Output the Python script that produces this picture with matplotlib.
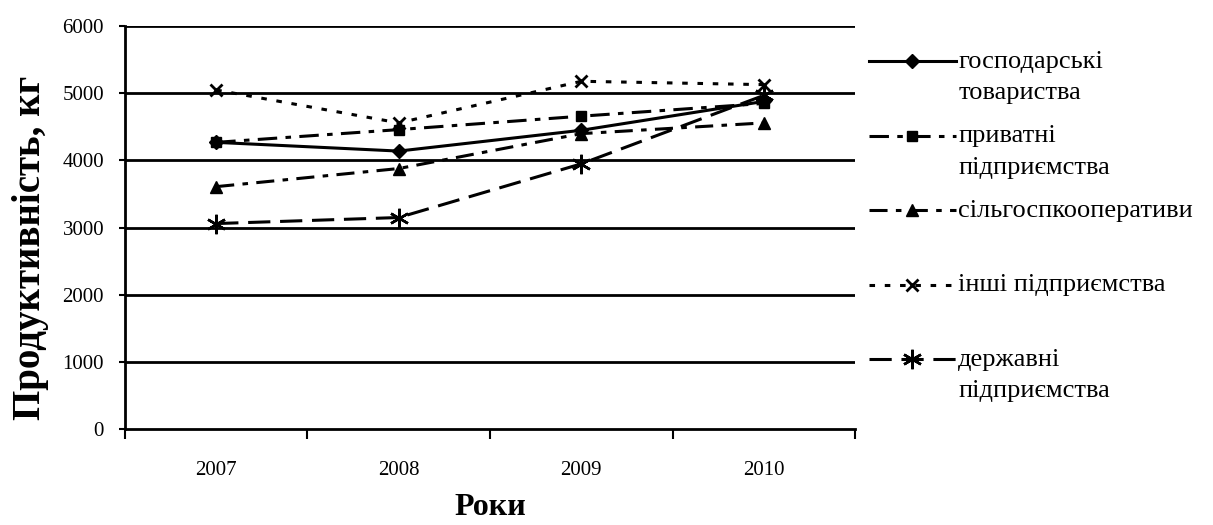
import numpy as np
import matplotlib
matplotlib.use("Agg")
import matplotlib.pyplot as plt

plt.rcParams['font.family'] = ['Liberation Serif', 'DejaVu Serif']
plt.rcParams['lines.scale_dashes'] = False

years = ['2007', '2008', '2009', '2010']
gosp = [4270, 4140, 4450, 4880]
pryv = [4270, 4460, 4660, 4850]
silg = [3610, 3880, 4400, 4560]
inshi = [5050, 4560, 5180, 5130]
derzh = [3060, 3150, 3950, 4970]

# every label gets two lines so the legend rows come out evenly spaced
labels = ['господарські\nтовариства', 'приватні\nпідприємства', 'сільгоспкооперативи\n ',
          'інші підприємства\n ', 'державні\nпідприємства']

x = np.arange(len(years))

fig = plt.figure(figsize=(12.13, 5.25), dpi=100)
ax = fig.add_axes([0.103, 0.183, 0.602, 0.767])

lw = 2.2
ax.plot(x, gosp, color='black', lw=lw, ls='-', marker='D', ms=7, label=labels[0], zorder=5)
ax.plot(x, pryv, color='black', lw=lw, ls=(0, (14, 6, 4, 6)), marker='s', ms=7, label=labels[1], zorder=4)
ax.plot(x, silg, color='black', lw=lw, ls=(0, (13, 6, 4, 6)), marker='^', ms=9, label=labels[2], zorder=4)
ax.plot(x, inshi, color='black', lw=lw, ls=(0, (4, 7)), marker='x', ms=8, mew=2, label=labels[3], zorder=4)
ax.plot(x, derzh, color='black', lw=lw, ls=(0, (16, 7)), marker=(6, 2, 0), ms=14, mew=1.8, label=labels[4], zorder=4)

ax.set_xlim(-0.5, 3.5)
ax.set_ylim(0, 6000)
ax.set_yticks(np.arange(0, 6001, 1000))
for yv in range(1000, 6001, 1000):
    ax.axhline(yv, color='black', lw=2, zorder=1)

ax.set_xticks(np.arange(-0.5, 3.6, 1.0))
ax.set_xticklabels([])
ax.set_xticks(x, minor=True)
ax.set_xticklabels(years, minor=True, fontsize=15)
ax.tick_params(axis='x', which='major', direction='out', length=7, width=1.5)
ax.tick_params(axis='x', which='minor', length=0, pad=23)
ax.tick_params(axis='y', direction='out', length=4, width=1.5, labelsize=15, pad=11)

for s in ['top', 'right']:
    ax.spines[s].set_visible(False)
for s in ['left', 'bottom']:
    ax.spines[s].set_linewidth(2)

ax.set_ylabel('Продуктивність, кг', fontsize=28, fontweight='bold')
ax.yaxis.set_label_coords(-0.104, 0.45)
ax.set_xlabel('Роки', fontsize=23, fontweight='bold')
ax.xaxis.set_label_coords(0.5, -0.16)

leg = ax.legend(loc='upper left', bbox_to_anchor=(1.004, 0.965), frameon=False, fontsize=19,
                handlelength=3.3, handleheight=1.0, handletextpad=0.1, labelspacing=0.8,
                borderaxespad=0)
for t in leg.get_texts():
    t.set_linespacing(1.55)
# put each handle next to the first line of its label, like the original
for col in leg._legend_handle_box.get_children():
    for row in col.get_children():
        row.align = 'top'

fig.savefig('out.png', dpi=100)
